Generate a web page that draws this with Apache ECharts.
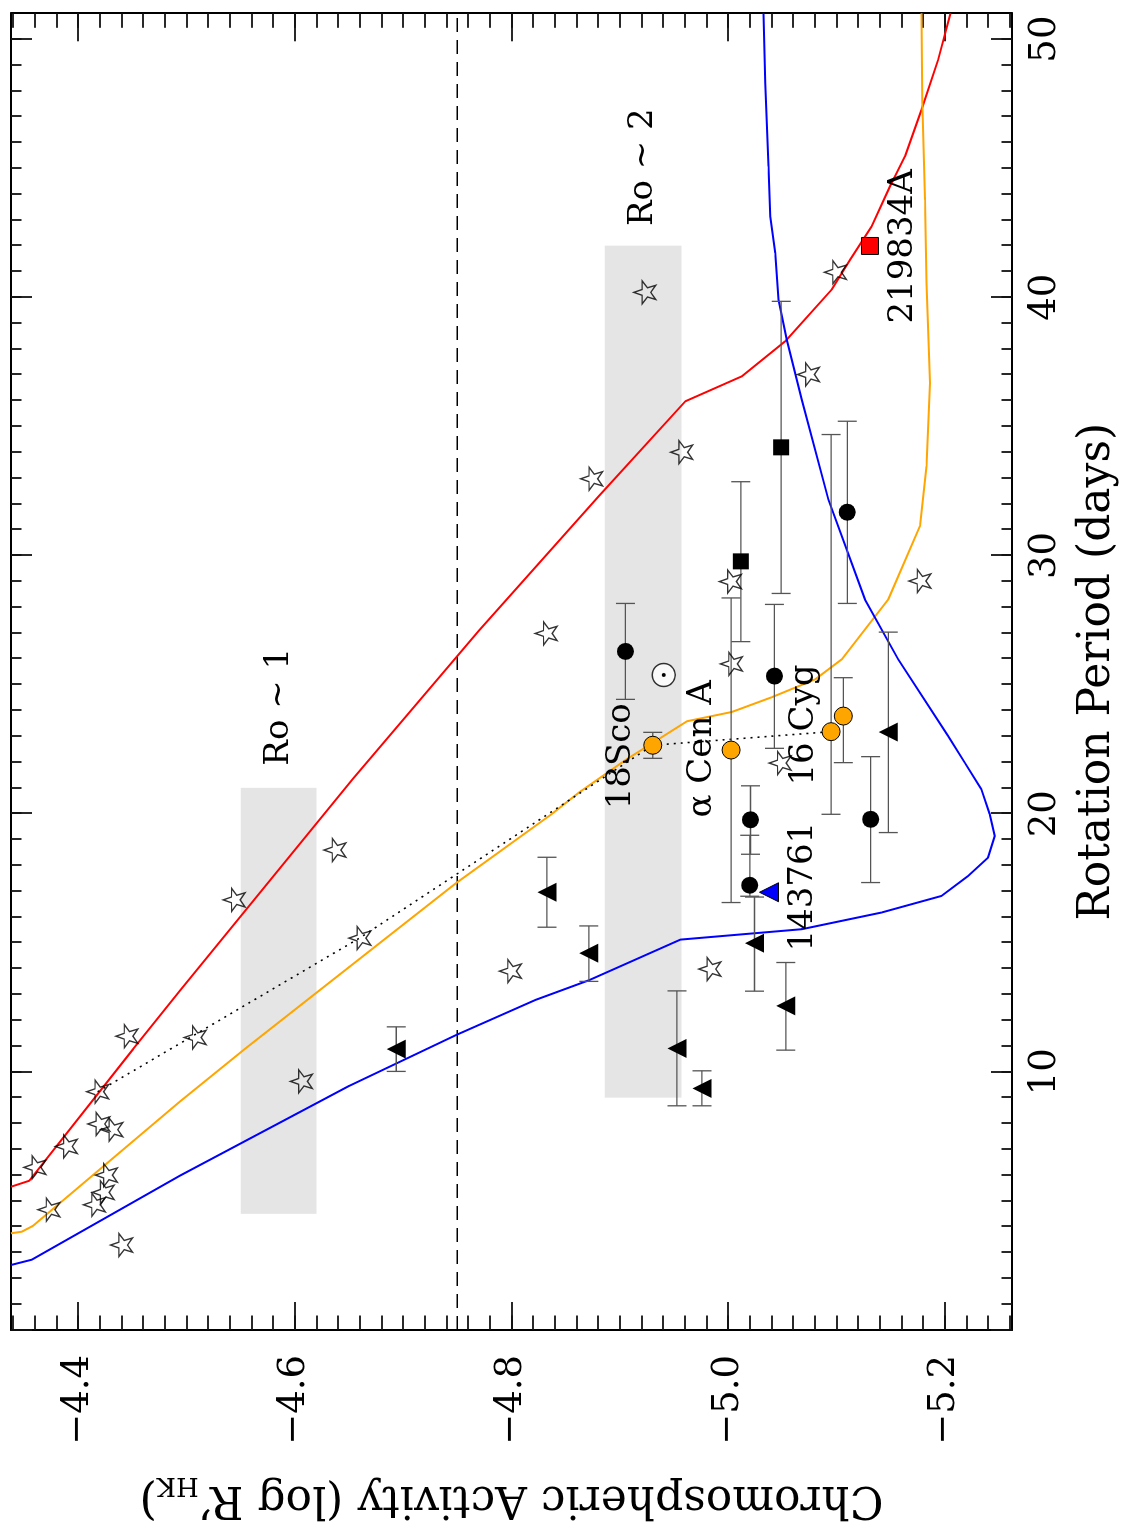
<!DOCTYPE html>
<html>
<head>
<meta charset="utf-8">
<script src="https://cdn.jsdelivr.net/npm/echarts@6.0.0/dist/echarts.min.js"></script>
<style>
  html, body { margin: 0; padding: 0; background: #fff; overflow: hidden; }
  /* chart is laid out in landscape and turned a quarter turn, like the printed figure */
  #plot { position: absolute; left: 0; top: 0; width: 1528px; height: 1125px;
          transform-origin: 0 0; transform: translateY(1528px) rotate(-90deg); }
</style>
</head>
<body>
<div id="plot"></div>
<script>
// [period (days), log R'HK]
var redCurve = [[5.549,-4.338],[5.781,-4.3549],[10.879,-4.4507],[13.135,-4.4937],[21.330,-4.6533],[27.093,-4.7701],
  [32.296,-4.8806],[35.973,-4.9605],[36.940,-5.0126],[38.295,-5.0526],[40.296,-5.0955],[41.457,-5.1125],[42.746,-5.1324],
  [44.426,-5.1508],[45.456,-5.1632],[47.264,-5.1784],[49.199,-5.1938],[51.0,-5.2052]];
var orangeCurve = [[3.745,-4.338],[3.807,-4.3479],[4.039,-4.3585],[8.839,-4.4937],[10.879,-4.5536],[17.304,-4.7486],
  [19.998,-4.8376],[20.815,-4.8622],[22.077,-4.9052],[23.579,-4.9620],[23.939,-5.0034],[24.511,-5.0403],[25.200,-5.0802],
  [25.974,-5.1048],[28.297,-5.1478],[31.134,-5.1770],[33.457,-5.1831],[36.684,-5.1862],[40.556,-5.1831],[43.779,-5.1816],
  [47.651,-5.1791],[51.0,-5.1784]];
var blueCurve = [[2.518,-4.338],[2.723,-4.3571],[5.974,-4.4937],[9.458,-4.6503],[11.421,-4.7486],[12.787,-4.8223],
  [13.546,-4.8714],[15.121,-4.9559],[15.524,-5.0679],[16.170,-5.1416],[16.813,-5.1969],[17.587,-5.2215],[18.299,-5.2399],
  [19.135,-5.2461],[19.975,-5.2415],[20.943,-5.2337],[21.976,-5.2184],[23.006,-5.2030],[25.974,-5.1570],[28.297,-5.1263],
  [32.168,-5.0925],[36.038,-5.0679],[38.360,-5.0541],[39.909,-5.0464],[41.716,-5.0434],[43.133,-5.0388],[45.069,-5.0372],
  [48.297,-5.0342],[51.0,-5.0326]];

var stars = [[6.30,-4.360],[4.66,-4.373],[7.11,-4.389],[4.85,-4.415],[9.23,-4.418],[7.98,-4.419],[5.33,-4.423],
  [6.00,-4.426],[7.76,-4.431],[3.29,-4.440],[11.38,-4.445],[11.33,-4.508],[16.66,-4.544],[9.63,-4.606],[18.59,-4.637],
  [15.18,-4.660],[13.90,-4.799],[26.98,-4.832],[32.97,-4.874],[40.19,-4.923],[34.00,-4.957],[13.98,-4.983],
  [28.99,-5.002],[25.80,-5.003],[21.96,-5.048],[37.01,-5.074],[40.97,-5.099],[29.01,-5.177]];

// [period, activity, period low, period high]
var triangles = [[10.879,-4.6936,10.016,11.742],[16.956,-4.8327,15.601,18.310],[14.595,-4.8714,13.503,15.651],
  [10.906,-4.9527,8.684,13.135],[9.357,-4.9758,8.684,10.039],[14.982,-5.0243,13.124,16.770],
  [12.555,-5.0532,10.840,14.234],[23.161,-5.1478,19.267,27.031]];
var circles = [[26.284,-4.9052,24.426,28.142],[25.328,-5.0427,22.530,28.104],[19.762,-5.0206,18.427,21.078],
  [17.227,-5.0200,16.801,19.162],[19.781,-5.1315,17.331,22.208],[31.676,-5.1100,28.142,35.199]];
var squares = [[29.772,-5.0117,26.663,32.857],[34.188,-5.0489,28.529,39.843]];
var twins = [[22.650,-4.9304,22.143,23.149],[22.464,-5.0027,16.557,28.355],
  [23.176,-5.0950,19.975,34.684],[23.780,-5.1063,21.976,25.266]];

var blueTriangle = [[16.956,-5.0377]];
var redSquare = [[41.988,-5.1309]];
var sun = [[25.371,-4.9405]];

// [period from, period to, activity low, activity high]
var bands = [[4.5,21,-4.62,-4.55],[9,42,-4.957,-4.886]];
var twinTrack = [[9.226,-4.4179],[15.175,-4.6595],[22.650,-4.9304]];
var twinLink = [[22.650,-4.9304],[23.176,-5.0950]];
var cutLevel = -4.75;

var labelNames = ['Ro ~ 1','Ro ~ 2','18Sco','\u03b1 Cen A','16 Cyg','143761','219834A'];
var labelPos = [[24.14,-4.586],[45.04,-4.922],[22.22,-4.901],[22.51,-4.976],[23.43,-5.070],[17.17,-5.069],[41.97,-5.162]];

var periodTicks = [0,10,20,30,40,50];
var periodLabels = [10,20,30,40,50];
var activityLabels = [-4.4,-4.6,-4.8,-5.0,-5.2];

var periodMinor = [];
for (var i = 1; i <= 50; i++) periodMinor.push(i);
var activityMinor = [];
for (var k = 217; k <= 263; k++) activityMinor.push(Math.round(-k * 2) / 100);

var FONT = 'DejaVu Serif';
var TICK = { color: '#111', width: 1.8 };
var PMIN = 0, PMAX = 51, AMIN = -5.262, AMAX = -4.338;

function xAx(pos, ticks, len, line, labels) {
  return {
    type: 'value', min: PMIN, max: PMAX, position: pos,
    axisLine: { show: line, onZero: false, lineStyle: { color: '#000', width: 2 } },
    axisTick: { show: true, inside: true, length: len, customValues: ticks, lineStyle: TICK },
    axisLabel: labels ? { customValues: labels, margin: 15, color: '#000', fontSize: 37, fontFamily: FONT } : { show: false },
    splitLine: { show: false }
  };
}
function yAx(pos, ticks, len, line, labels) {
  return {
    type: 'value', min: AMIN, max: AMAX, position: pos, offset: 0,
    axisLine: { show: line, onZero: false, lineStyle: { color: '#000', width: 2 } },
    axisTick: { show: true, inside: true, length: len, customValues: ticks, lineStyle: TICK },
    axisLabel: labels ? {
      customValues: labels, margin: 25, color: '#000', fontSize: 37, fontFamily: FONT,
      formatter: function (v) { return '\u2212' + Math.abs(v).toFixed(1); }
    } : { show: false },
    splitLine: { show: false }
  };
}

var xBottom = xAx('bottom', periodTicks, 21, true, periodLabels);
xBottom.name = 'Rotation Period (days)';
xBottom.nameLocation = 'middle';
xBottom.nameGap = 64;
xBottom.nameTextStyle = { color: '#000', fontSize: 44, fontFamily: FONT };

var yLeft = yAx('left', activityLabels, 28, true, activityLabels);
yLeft.name = '{n|Chromospheric Activity (log R\u2019}{s|HK}{n|)}';
yLeft.nameLocation = 'middle';
yLeft.nameGap = 142;
yLeft.nameTextStyle = {
  color: '#000', fontFamily: FONT,
  rich: {
    n: { fontSize: 44, fontFamily: FONT, color: '#000', lineHeight: 52 },
    s: { fontSize: 26, fontFamily: FONT, color: '#000', lineHeight: 30, verticalAlign: 'bottom' }
  }
};

function errorBars(params, api) {
  var a = api.value(1);
  var lo = api.coord([api.value(2), a]);
  var hi = api.coord([api.value(3), a]);
  var c = 9.5;
  var st = { stroke: '#555', lineWidth: 1.3 };
  return {
    type: 'group', children: [
      { type: 'line', shape: { x1: lo[0], y1: lo[1], x2: hi[0], y2: hi[1] }, style: st },
      { type: 'line', shape: { x1: lo[0], y1: lo[1] - c, x2: lo[0], y2: lo[1] + c }, style: st },
      { type: 'line', shape: { x1: hi[0], y1: hi[1] - c, x2: hi[0], y2: hi[1] + c }, style: st }
    ]
  };
}

var starPath = 'path://M50,0L61.76,33.82L97.55,34.55L69.02,56.18L79.39,90.45L50,70L20.61,90.45L30.98,56.18L2.45,34.55L38.24,33.82Z';

function curve(data, color) {
  return { type: 'line', data: data, showSymbol: false, symbol: 'none', z: 3, silent: true,
    lineStyle: { color: color, width: 2 } };
}
function dots(data, symbol, size, fill, border, z) {
  return { type: 'scatter', data: data, symbol: symbol, symbolSize: size, z: z || 6, silent: true,
    encode: { x: 0, y: 1 },
    itemStyle: { color: fill, borderColor: border ? '#000' : fill, borderWidth: border ? 1 : 0, opacity: 1 } };
}

var chart = echarts.init(document.getElementById('plot'), null, { renderer: 'canvas', width: 1528, height: 1125 });
chart.setOption({
  animation: false,
  backgroundColor: '#fff',
  grid: { left: 196.5, right: 13.3, top: 11, bottom: 111 },
  xAxis: [
    xBottom,
    xAx('bottom', periodMinor, 10.5, false, null),
    xAx('top', periodTicks, 21, true, null),
    xAx('top', periodMinor, 10.5, false, null)
  ],
  yAxis: [
    yLeft,
    yAx('left', activityMinor, 14.5, false, null),
    yAx('right', activityLabels, 28, true, null),
    yAx('right', activityMinor, 14.5, false, null)
  ],
  series: [
    {
      type: 'custom', data: bands, z: 1, silent: true, encode: { x: [0, 1], y: [2, 3] },
      renderItem: function (params, api) {
        var p0 = api.coord([api.value(0), api.value(3)]);
        var p1 = api.coord([api.value(1), api.value(2)]);
        return { type: 'rect', shape: { x: p0[0], y: p0[1], width: p1[0] - p0[0], height: p1[1] - p0[1] },
          style: { fill: '#e5e5e5' } };
      }
    },
    { type: 'line', data: [[PMIN, cutLevel], [PMAX, cutLevel]], symbol: 'none', z: 2, silent: true,
      lineStyle: { color: '#000', width: 1.5, type: [14, 8] } },
    curve(redCurve, '#ff0000'),
    curve(orangeCurve, '#ffa500'),
    curve(blueCurve, '#0000ff'),
    { type: 'line', data: twinTrack, symbol: 'none', z: 3, silent: true,
      lineStyle: { color: '#000', width: 1.6, type: [2, 5] } },
    { type: 'line', data: twinLink, symbol: 'none', z: 3, silent: true,
      lineStyle: { color: '#000', width: 1.6, type: [2, 5] } },
    {
      type: 'custom', data: [].concat(triangles, circles, squares, twins), z: 4, silent: true,
      encode: { x: [0, 2, 3], y: 1 }, renderItem: errorBars
    },
    { type: 'scatter', data: stars, symbol: starPath, symbolSize: 23, symbolKeepAspect: true, z: 5, silent: true,
      itemStyle: { color: 'rgba(0,0,0,0)', borderColor: '#000', borderWidth: 1.4 } },
    dots(triangles, 'triangle', 19, '#000', false),
    dots(circles, 'circle', 17, '#000', false),
    dots(squares, 'rect', 16, '#000', false),
    dots(twins, 'circle', 18, '#ffa500', true),
    dots(blueTriangle, 'triangle', 19, '#0000ff', true),
    dots(redSquare, 'rect', 17, '#ff0000', true),
    { type: 'scatter', data: sun, symbol: 'circle', symbolSize: 23, z: 6, silent: true,
      itemStyle: { color: '#fff', borderColor: '#000', borderWidth: 1.5 } },
    dots(sun, 'circle', 4, '#000', false, 7),
    {
      type: 'custom', data: labelPos, z: 8, silent: true, encode: { x: 0, y: 1 },
      renderItem: function (params, api) {
        var pt = api.coord([api.value(0), api.value(1)]);
        return { type: 'text', x: pt[0], y: pt[1],
          style: { text: labelNames[params.dataIndex], font: '34px "' + FONT + '"', fill: '#000',
            align: 'center', verticalAlign: 'middle' } };
      }
    }
  ]
});
</script>
</body>
</html>
